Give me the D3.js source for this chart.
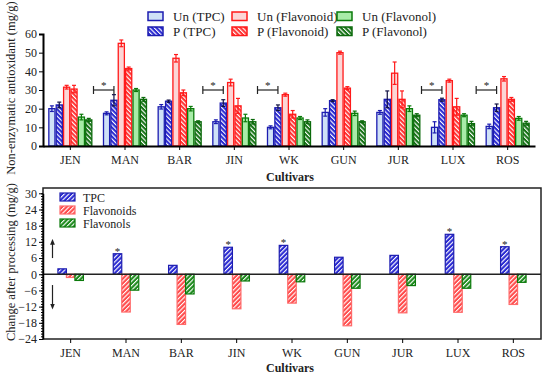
<!DOCTYPE html>
<html>
<head>
<meta charset="utf-8">
<script src="https://cdn.jsdelivr.net/npm/d3@7"></script>
<style>
  body { margin: 0; background: #fff; }
  text { font-family: "Liberation Serif", "Times New Roman", serif; fill: #222; }
</style>
</head>
<body>
<svg id="chart" width="550" height="379"></svg>
<script>
// Data
// --------------------
var cultivars = ["JEN", "MAN", "BAR", "JIN", "WK", "GUN", "JUR", "LUX", "ROS"];
var topSeries = ["Un (TPC)", "P (TPC)", "Un (Flavonoid)", "P (Flavonoid)", "Un (Flavonol)", "P (Flavonol)"];
// one row per cultivar, in the order of topSeries
var topValues = [
    [20, 22, 31.5, 30.5, 15.5, 14],
    [17.5, 24.5, 55, 41.5, 30, 25],
    [21, 24, 47, 28.5, 20, 13],
    [13, 23, 34, 21.5, 15, 13],
    [10, 20.5, 27.5, 17, 15, 13],
    [18, 24.3, 50, 31, 17.5, 13],
    [18, 25, 39, 25, 20, 16.5],
    [10, 24.8, 35, 21, 16.5, 12],
    [10.5, 20.5, 36, 25, 14.8, 12.2]
];
var topErrors = [
    [1.5, 1.5, 1, 2, 1.5, 0.8],
    [0.8, 3, 1.8, 0.8, 0.8, 1],
    [1.2, 0.6, 2, 1.5, 1.2, 0.5],
    [1, 1.8, 1.8, 4, 2, 1.2],
    [0.8, 1.5, 0.8, 2, 0.8, 1],
    [2, 0.5, 0.8, 0.8, 1.2, 0.5],
    [1, 4.5, 6, 4.5, 1.5, 0.8],
    [3, 0.8, 0.8, 4.5, 0.8, 1.2],
    [1.2, 2, 1.2, 1, 1, 1]
];
var topSignificant = ["MAN", "JIN", "WK", "LUX", "ROS"];
var topTicks = [0, 10, 20, 30, 40, 50, 60];

var changeSeries = ["TPC", "Flavonoids", "Flavonols"];
var changeValues = [
    [2, -1.2, -2.3],
    [7.6, -14, -5.9],
    [3.3, -18.6, -7.3],
    [10, -12.8, -2.5],
    [10.7, -10.7, -2.8],
    [6.3, -19.1, -5.2],
    [7, -14.3, -4.2],
    [14.8, -14.1, -5.2],
    [10.2, -11.2, -3]
];
var changeSignificant = ["MAN", "JIN", "WK", "LUX", "ROS"];
var changeTicks = [30, 24, 18, 12, 6, 0, -6, -12, -18, -24];

// Styles
// --------------------
var stroke = ["#1c1cb0", "#1c1cb0", "#ff1a1a", "#ff1a1a", "#0b7a0b", "#0b6a0b"];
var lightFill = { 0: "#cfe1f7", 2: "#fcd6d6", 4: "#a8eca8" };
var hatchBase = ["#2a2ad2", "#ff3434", "#177317"];
var changeStroke = ["#1c1cb0", "#ff6a6a", "#0b7a0b"];
var changeHatch = ["#2a2ad2", "#ff4a4a", "#1c8a1c"];

var svg = d3.select("#chart");
var defs = svg.append("defs");

// hatch patterns: top panel "\" stripes, bottom panel "/" stripes
function addHatch(id, color, angle) {
    var p = defs.append("pattern")
        .attr("id", id)
        .attr("patternUnits", "userSpaceOnUse")
        .attr("width", 3.2)
        .attr("height", 3.2)
        .attr("patternTransform", "rotate(" + angle + ")");
    p.append("rect").attr("width", 3.2).attr("height", 3.2).attr("fill", color);
    p.append("rect").attr("x", 0).attr("width", 1.1).attr("height", 3.2).attr("fill", "#fff");
}
hatchBase.forEach(function (c, i) { addHatch("hT" + i, c, -45); });
changeHatch.forEach(function (c, i) { addHatch("hB" + i, c, 45); });

function topFill(i) {
    return i % 2 === 0 ? lightFill[i] : "url(#hT" + Math.floor(i / 2) + ")";
}

// ==============================================================
// Top panel
// ==============================================================
var xTop = d3.scaleBand().domain(cultivars).range([43, 535]);
var xTopSub = d3.scaleBand().domain(d3.range(topSeries.length))
    .range([0, 43]).paddingInner(0.17);
var yTop = d3.scaleLinear().domain([0, 60]).range([146, 34]);
var groupOffsetTop = (xTop.bandwidth() - 43) / 2;

var gTop = svg.append("g").attr("id", "top");

var groups = gTop.selectAll(".grp")
    .data(cultivars)
    .enter().append("g")
    .attr("class", "grp")
    .attr("transform", function (d) { return "translate(" + (xTop(d) + groupOffsetTop) + ",0)"; });

var cells = groups.selectAll(".bar")
    .data(function (d, ci) {
        return topValues[ci].map(function (v, si) {
            return { v: v, e: topErrors[ci][si], s: si };
        });
    })
    .enter();

cells.append("rect")
    .attr("class", "bar")
    .attr("x", function (d) { return xTopSub(d.s); })
    .attr("y", function (d) { return yTop(d.v); })
    .attr("width", xTopSub.bandwidth())
    .attr("height", function (d) { return yTop(0) - yTop(d.v); })
    .style("fill", function (d) { return topFill(d.s); })
    .style("stroke", function (d) { return stroke[d.s]; })
    .style("stroke-width", 1.3);

// error bars
var err = cells.append("g")
    .style("stroke", function (d) { return d.s === 1 ? "#111144" : stroke[d.s]; })
    .style("stroke-width", 1.2);
err.append("line")
    .attr("x1", function (d) { return xTopSub(d.s) + xTopSub.bandwidth() / 2; })
    .attr("x2", function (d) { return xTopSub(d.s) + xTopSub.bandwidth() / 2; })
    .attr("y1", function (d) { return yTop(d.v - d.e); })
    .attr("y2", function (d) { return yTop(d.v + d.e); });
err.append("line")
    .attr("x1", function (d) { return xTopSub(d.s) + xTopSub.bandwidth() / 2 - 2; })
    .attr("x2", function (d) { return xTopSub(d.s) + xTopSub.bandwidth() / 2 + 2; })
    .attr("y1", function (d) { return yTop(d.v + d.e); })
    .attr("y2", function (d) { return yTop(d.v + d.e); });
err.append("line")
    .attr("x1", function (d) { return xTopSub(d.s) + xTopSub.bandwidth() / 2 - 2; })
    .attr("x2", function (d) { return xTopSub(d.s) + xTopSub.bandwidth() / 2 + 2; })
    .attr("y1", function (d) { return yTop(Math.max(0, d.v - d.e)); })
    .attr("y2", function (d) { return yTop(Math.max(0, d.v - d.e)); });

// significance brackets between Un (TPC) and P (TPC)
var brk = gTop.selectAll(".brk")
    .data(topSignificant)
    .enter().append("g")
    .attr("class", "brk")
    .style("stroke", "#222")
    .style("stroke-width", 1.2);
function brkX0(d) { return xTop(d) + groupOffsetTop + xTopSub(0) - 10; }
function brkX1(d) { return xTop(d) + groupOffsetTop + xTopSub(1) + xTopSub.bandwidth() / 2; }
brk.append("line")
    .attr("x1", brkX0).attr("x2", brkX1)
    .attr("y1", yTop(30)).attr("y2", yTop(30));
brk.append("line")
    .attr("x1", brkX0).attr("x2", brkX0)
    .attr("y1", yTop(30) - 4).attr("y2", yTop(30) + 4);
brk.append("line")
    .attr("x1", brkX1).attr("x2", brkX1)
    .attr("y1", yTop(30) - 4).attr("y2", yTop(30) + 4);
brk.append("text")
    .text("*")
    .attr("x", function (d) { return (brkX0(d) + brkX1(d)) / 2; })
    .attr("y", yTop(30) - 1)
    .attr("text-anchor", "middle")
    .attr("font-size", 11)
    .style("stroke", "none");

// axes
var yAxisTop = gTop.append("g")
    .attr("transform", "translate(43,0)")
    .call(d3.axisLeft(yTop).tickValues(topTicks).tickSize(4).tickPadding(2));
yAxisTop.select(".domain").attr("stroke-width", 2);
yAxisTop.selectAll("text").attr("font-size", 12);

var xAxisTop = gTop.append("g")
    .attr("transform", "translate(0," + yTop(0) + ")")
    .call(d3.axisBottom(xTop).tickSize(4).tickPadding(5).tickSizeOuter(0));
xAxisTop.select(".domain").attr("stroke-width", 2);
xAxisTop.selectAll("text").attr("font-size", 12);

gTop.append("text")
    .text("Non-enzymatic antioxidant (mg/g)")
    .attr("transform", "translate(15,88) rotate(-90)")
    .attr("text-anchor", "middle")
    .attr("font-size", 12.5);

gTop.append("text")
    .text("Cultivars")
    .attr("x", 290)
    .attr("y", 181)
    .attr("text-anchor", "middle")
    .attr("font-size", 12)
    .attr("font-weight", "bold");

// legend
var legTop = gTop.selectAll(".leg")
    .data(topSeries)
    .enter().append("g")
    .attr("class", "leg")
    .attr("transform", function (d, i) {
        return "translate(" + [148, 232, 337][Math.floor(i / 2)] + "," + (i % 2 === 0 ? 12 : 27) + ")";
    });
legTop.append("rect")
    .attr("width", 15)
    .attr("height", 8.5)
    .style("fill", function (d, i) { return topFill(i); })
    .style("stroke", function (d, i) { return stroke[i]; })
    .style("stroke-width", 1.5);
legTop.append("text")
    .text(function (d) { return d; })
    .attr("x", 25)
    .attr("y", 9)
    .attr("font-size", 13);

// ==============================================================
// Bottom panel
// ==============================================================
var xBot = d3.scaleBand().domain(cultivars).range([43, 541]);
var barW = 8.5;
var xBotSub = d3.scaleBand().domain(d3.range(changeSeries.length))
    .range([0, barW * 3]);
var yBot = d3.scaleLinear().domain([-24, 30]).range([339, 193.3]);
var groupOffsetBot = (xBot.bandwidth() - barW * 3) / 2;

var gBot = svg.append("g").attr("id", "bottom");

// frame
gBot.append("rect")
    .attr("x", 43).attr("y", 188)
    .attr("width", 541 - 43).attr("height", 339 - 188)
    .style("fill", "none").style("stroke", "#222").style("stroke-width", 1.5);

var bGroups = gBot.selectAll(".bgrp")
    .data(cultivars)
    .enter().append("g")
    .attr("class", "bgrp")
    .attr("transform", function (d) { return "translate(" + (xBot(d) + groupOffsetBot) + ",0)"; });

bGroups.selectAll(".cbar")
    .data(function (d, ci) {
        return changeValues[ci].map(function (v, si) { return { v: v, s: si }; });
    })
    .enter().append("rect")
    .attr("class", "cbar")
    .attr("x", function (d) { return xBotSub(d.s); })
    .attr("y", function (d) { return yBot(Math.max(0, d.v)); })
    .attr("width", xBotSub.bandwidth())
    .attr("height", function (d) { return Math.abs(yBot(d.v) - yBot(0)); })
    .style("fill", function (d) { return "url(#hB" + d.s + ")"; })
    .style("stroke", function (d) { return changeStroke[d.s]; })
    .style("stroke-width", 1.2);

// stars on TPC bars
gBot.selectAll(".cstar")
    .data(changeSignificant)
    .enter().append("text")
    .attr("class", "cstar")
    .text("*")
    .attr("x", function (d) { return xBot(d) + groupOffsetBot + xBotSub(0) + barW / 2; })
    .attr("y", function (d) { return yBot(changeValues[cultivars.indexOf(d)][0]) + 1; })
    .attr("text-anchor", "middle")
    .attr("font-size", 11);

// zero line
gBot.append("line")
    .attr("x1", 43).attr("x2", 541)
    .attr("y1", yBot(0)).attr("y2", yBot(0))
    .style("stroke", "#222").style("stroke-width", 1.5);

// axes
var yAxisBot = gBot.append("g")
    .attr("transform", "translate(43,0)")
    .call(d3.axisLeft(yBot).tickValues(changeTicks).tickSize(4).tickPadding(2).tickSizeOuter(0));
yAxisBot.select(".domain").attr("stroke-width", 1.5);
yAxisBot.selectAll("text").attr("font-size", 12);
gBot.append("g")
    .attr("transform", "translate(43,0)")
    .call(d3.axisLeft(yBot).tickValues(d3.range(-24, 31, 1)).tickSize(2).tickFormat(""))
    .select(".domain").remove();

var xAxisBot = gBot.append("g")
    .attr("transform", "translate(0,339)")
    .call(d3.axisBottom(xBot).tickSize(4).tickPadding(5).tickSizeOuter(0));
xAxisBot.select(".domain").remove();
xAxisBot.selectAll("text").attr("font-size", 12);

// arrows
defs.append("marker")
    .attr("id", "arrow")
    .attr("viewBox", "0 0 10 10")
    .attr("refX", 5).attr("refY", 5)
    .attr("markerWidth", 5).attr("markerHeight", 5)
    .attr("orient", "auto")
    .append("path").attr("d", "M0,1L10,5L0,9Z").attr("fill", "#222");
gBot.append("line")
    .attr("x1", 52.5).attr("x2", 52.5)
    .attr("y1", yBot(6)).attr("y2", yBot(12))
    .style("stroke", "#222").style("stroke-width", 1.2)
    .attr("marker-end", "url(#arrow)");
gBot.append("line")
    .attr("x1", 52.5).attr("x2", 52.5)
    .attr("y1", yBot(-4)).attr("y2", yBot(-12))
    .style("stroke", "#222").style("stroke-width", 1.2)
    .attr("marker-end", "url(#arrow)");

gBot.append("text")
    .text("Change after processing (mg/g)")
    .attr("transform", "translate(15,262) rotate(-90)")
    .attr("text-anchor", "middle")
    .attr("font-size", 12.5);

gBot.append("text")
    .text("Cultivars")
    .attr("x", 290)
    .attr("y", 372)
    .attr("text-anchor", "middle")
    .attr("font-size", 12)
    .attr("font-weight", "bold");

// legend
var legBot = gBot.selectAll(".bleg")
    .data(changeSeries)
    .enter().append("g")
    .attr("class", "bleg")
    .attr("transform", function (d, i) { return "translate(60," + (193 + i * 13) + ")"; });
legBot.append("rect")
    .attr("width", 15)
    .attr("height", 8)
    .style("fill", function (d, i) { return "url(#hB" + i + ")"; })
    .style("stroke", function (d, i) { return changeStroke[i]; })
    .style("stroke-width", 1.2);
legBot.append("text")
    .text(function (d) { return d; })
    .attr("x", 23)
    .attr("y", 8.5)
    .attr("font-size", 12);
</script>
</body>
</html>
